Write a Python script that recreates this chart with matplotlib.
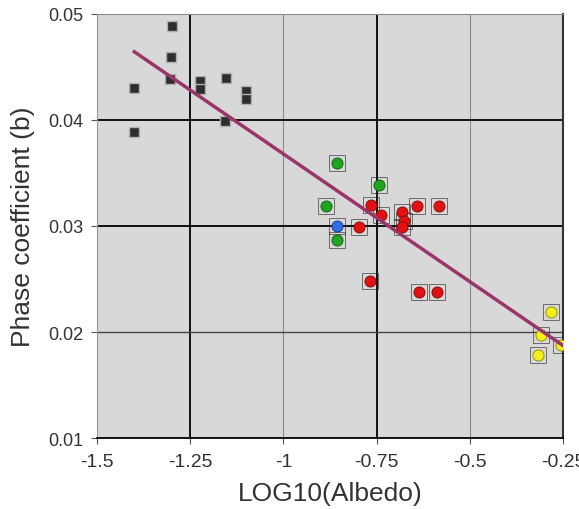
import matplotlib
matplotlib.use("Agg")
import matplotlib.pyplot as plt

plt.rcParams['font.family'] = ['Liberation Sans', 'DejaVu Sans']

# data
gray_x = [-1.298, -1.301, -1.304, -1.40, -1.223, -1.223, -1.153, -1.10, -1.10, -1.40, -1.156]
gray_y = [0.0489, 0.0459, 0.0439, 0.0430, 0.0437, 0.0429, 0.0440, 0.0427, 0.0420, 0.0389, 0.0399]

green_x = [-0.856, -0.744, -0.887, -0.856]
green_y = [0.0359, 0.0339, 0.0319, 0.0287]

blue_x = [-0.856]
blue_y = [0.0300]

red_x = [-0.766, -0.798, -0.739, -0.641, -0.583, -0.681, -0.677, -0.681, -0.769, -0.636, -0.587]
red_y = [0.0320, 0.0299, 0.0310, 0.0319, 0.0319, 0.0313, 0.0305, 0.0299, 0.0248, 0.0238, 0.0238]

yellow_x = [-0.282, -0.309, -0.255, -0.318]
yellow_y = [0.0219, 0.0197, 0.0188, 0.0178]

# regression line
fit_intercept = 0.0127
fit_slope = -0.0241
fit_range = [-1.40, -0.25]

x_ticks = [-1.5, -1.25, -1, -0.75, -0.5, -0.25]
x_labels = ["-1.5", "-1.25", "-1", "-0.75", "-0.5", "-0.25"]
y_ticks = [0.01, 0.02, 0.03, 0.04, 0.05]
y_labels = ["0.01", "0.02", "0.03", "0.04", "0.05"]

fig = plt.figure(figsize=(5.79, 5.10), dpi=100)
ax = fig.add_axes([97 / 579, 1 - 439 / 510, 466 / 579, 424 / 510])
ax.set_facecolor('#d8d8d8')
ax.set_xlim(-1.5, -0.25)
ax.set_ylim(0.01, 0.05)

# grid lines: dark ones and light ones
for xv, c, lw in [(-1.25, 'black', 1.3), (-1, '#8a8a8a', 0.8), (-0.75, 'black', 1.3), (-0.5, '#8a8a8a', 0.8)]:
    ax.axvline(xv, color=c, lw=lw, zorder=1)
for yv, c, lw in [(0.02, '#444444', 1.0), (0.03, 'black', 1.3), (0.04, 'black', 1.3)]:
    ax.axhline(yv, color=c, lw=lw, zorder=1)

ax.spines['left'].set_color('#9a9a9a')
ax.spines['top'].set_color('#8a8a8a')
ax.spines['right'].set_color('#333333')
ax.spines['right'].set_linewidth(1.5)
ax.spines['bottom'].set_color('black')
ax.spines['bottom'].set_linewidth(1.3)

# points
ax.plot(gray_x, gray_y, 's', ms=7, mfc='#2e2e2e', mec='#b0b0b0', mew=1.0, zorder=3)
for xs, ys, col, ec in [(green_x, green_y, '#1fa51f', '#0d5a0d'),
                        (blue_x, blue_y, '#2f6fe4', '#12357a'),
                        (red_x, red_y, '#e31212', '#7a0a0a'),
                        (yellow_x, yellow_y, '#f4ef1c', '#8a8600')]:
    ax.plot(xs, ys, 's', ms=11, mfc='none', mec='#222222', mew=0.7, alpha=0.6, zorder=3)
    ax.plot(xs, ys, 'o', ms=8, mfc=col, mec=ec, mew=0.6, zorder=4)

# fit line
fx = fit_range
fy = [fit_intercept + fit_slope * v for v in fx]
ax.plot(fx, fy, color='#9a356a', lw=2.5, zorder=5)

ax.set_xticks(x_ticks)
ax.set_xticklabels(x_labels)
ax.set_yticks(y_ticks)
ax.set_yticklabels(y_labels)
ax.tick_params(axis='both', direction='out', length=4, labelcolor='#333333', color='#555555')
ax.tick_params(axis='x', labelsize=14, pad=7)
ax.tick_params(axis='y', labelsize=13, pad=6)

ax.set_xlabel("LOG10(Albedo)", fontsize=19, color='#333333')
ax.set_ylabel("Phase coefficient (b)", fontsize=19, color='#333333')
ax.xaxis.set_label_coords(0.5, -0.101)
ax.yaxis.set_label_coords(-0.133, 0.5)

fig.savefig("out.png", dpi=100)
